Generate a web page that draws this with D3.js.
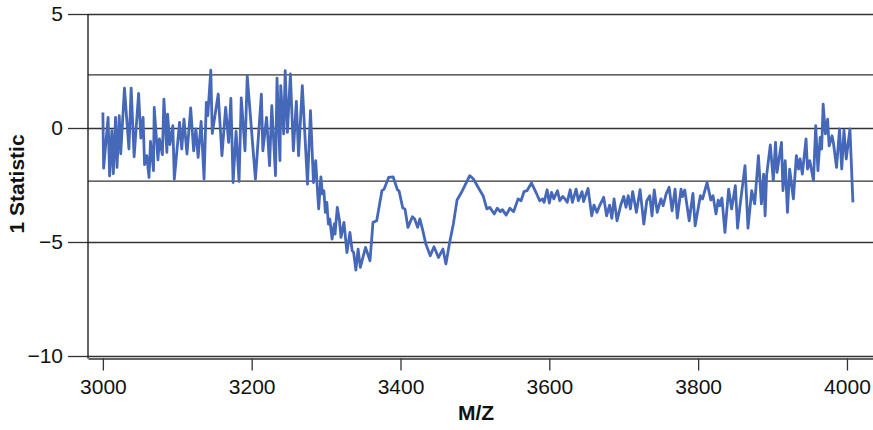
<!DOCTYPE html>
<html>

<head>
  <meta charset="utf-8">
  <title>1 Statistic vs M/Z</title>
  <script src="https://cdn.jsdelivr.net/npm/d3@7"></script>
  <style type="text/css">
    html,
    body {
      margin: 0;
      padding: 0;
      background: #fff;
    }

    svg {
      display: block;
      font-family: "Liberation Sans", Arial, Helvetica, sans-serif;
    }

    .axis text {
      font-size: 21px;
      fill: #111;
    }

    .axis path,
    .axis line,
    .grid line {
      stroke: #333;
      stroke-width: 1.3px;
    }

    .grid path {
      display: none;
    }

    .title {
      font-size: 21px;
      font-weight: bold;
      fill: #111;
    }

    .line {
      fill: none;
      stroke: #4668b8;
      stroke-width: 2.8px;
      stroke-linejoin: round;
    }
  </style>
</head>

<body>
  <svg class="svg" width="873" height="430"></svg>
  <script type="text/javascript">
    // M/Z positions
    var mz = [
      3000, 3001, 3007, 3009, 3012, 3014, 3017, 3019, 3022, 3024, 3029, 3035, 3038, 3042, 3048, 3051,
      3054, 3056, 3059, 3062, 3064, 3068, 3069, 3074, 3076, 3080, 3082, 3086, 3087, 3090, 3094, 3096,
      3103, 3106, 3109, 3113, 3118, 3122, 3125, 3128, 3132, 3136, 3139, 3141, 3145, 3147, 3155, 3160,
      3165, 3169, 3172, 3175, 3179, 3183, 3186, 3191, 3194, 3205, 3213, 3215, 3220, 3224, 3227, 3232,
      3234, 3238, 3239, 3243, 3245, 3248, 3252, 3256, 3260, 3263, 3268, 3275, 3279, 3283, 3286, 3288,
      3290, 3293, 3295, 3297, 3299, 3301, 3303, 3305, 3308, 3311, 3312, 3315, 3318, 3320, 3324, 3328,
      3332, 3335, 3337, 3340, 3343, 3346, 3353, 3359, 3363, 3368, 3375, 3378, 3384, 3390, 3396, 3398,
      3403, 3406, 3410, 3416, 3419, 3423, 3426, 3430, 3434, 3440, 3445, 3451, 3457, 3461, 3466, 3471,
      3476, 3482, 3493, 3498, 3507, 3511, 3516, 3520, 3526, 3530, 3534, 3537, 3542, 3547, 3552, 3558,
      3562, 3566, 3570, 3576, 3582, 3587, 3591, 3593, 3597, 3600, 3603, 3606, 3611, 3614, 3618, 3621,
      3624, 3628, 3631, 3636, 3639, 3644, 3646, 3652, 3657, 3660, 3664, 3668, 3673, 3677, 3681, 3684,
      3687, 3691, 3696, 3700, 3703, 3706, 3709, 3712, 3717, 3722, 3727, 3731, 3735, 3738, 3741, 3745,
      3750, 3753, 3757, 3761, 3765, 3769, 3772, 3777, 3779, 3782, 3788, 3793, 3796, 3803, 3806, 3812,
      3817, 3820, 3824, 3827, 3829, 3832, 3836, 3841, 3845, 3850, 3853, 3856, 3863, 3867, 3872, 3876,
      3881, 3885, 3888, 3890, 3892, 3897, 3901, 3904, 3906, 3912, 3914, 3917, 3920, 3923, 3926, 3928,
      3932, 3935, 3937, 3940, 3945, 3947, 3950, 3955, 3958, 3961, 3964, 3966, 3968, 3971, 3974, 3976,
      3980, 3982, 3986, 3990, 3993, 3996, 3999, 4004, 4008
    ];

    // statistic values, same order
    var stat = [
      0.68, -1.76, 0.47, -2.1, -0.12, -2.0, 0.47, -1.73, 0.54, -1.13, 1.75, -0.92, 1.75, -1.26, 1.52, -0.44,
      0.47, -1.61, -1.21, -2.17, -0.59, -1.87, 0.9, -1.4, -0.48, -1.17, 1.27, -1.07, 0.61, -0.73, 0.1, -2.24,
      0.25, -0.92, 0.39, -1.14, 0.88, -1.0, -0.04, -1.29, 0.29, -2.24, 1.12, 0.54, 2.54, -0.24, 1.49, -1.21,
      0.9, -0.63, 1.3, -2.39, -0.15, -2.34, 1.32, -1.0, 2.29, -2.24, 1.49, -1.0, 0.47, -1.65, 0.98, -2.09,
      2.19, -1.43, 1.86, -0.26, 2.51, -0.19, 2.37, -1.0, 1.17, -1.21, 1.86, -2.46, 0.76, -2.39, -1.43, -2.53,
      -3.55, -2.14, -2.89, -2.75, -3.7, -3.26, -4.21, -3.99, -4.87, -4.21, -4.65, -3.48, -4.07, -4.8, -4.14, -5.46,
      -4.58, -5.38, -5.46, -6.23, -5.31, -6.11, -5.24, -5.82, -4.14, -4.07, -2.75, -2.68, -2.17, -2.14, -2.72, -2.75,
      -3.51, -3.55, -4.36, -3.89, -3.99, -4.36, -3.99, -4.5, -5.09, -5.6, -5.21, -5.68, -5.31, -5.96, -5.02, -4.21,
      -3.16, -2.82, -2.09, -2.24, -2.75, -2.97, -3.55, -3.48, -3.77, -3.52, -3.67, -3.58, -3.82, -3.52, -3.67, -3.11,
      -3.19, -2.79, -2.75, -2.41, -2.82, -3.19, -3.11, -3.26, -2.71, -3.29, -2.82, -3.11, -2.75, -3.19, -3.0, -3.11,
      -3.26, -2.71, -3.26, -2.68, -3.19, -2.79, -3.23, -2.65, -3.85, -3.38, -3.7, -3.38, -3.04, -3.85, -3.38, -3.96,
      -3.11, -4.07, -3.38, -3.0, -3.48, -2.97, -3.55, -2.79, -3.7, -2.7, -4.21, -3.19, -2.97, -3.85, -2.72, -3.7,
      -3.11, -3.41, -2.89, -2.6, -3.63, -2.68, -3.95, -2.68, -3.01, -2.72, -4.07, -2.87, -4.29, -2.97, -3.11, -2.39,
      -3.16, -2.97, -3.77, -3.16, -3.41, -3.07, -4.58, -2.68, -3.55, -2.53, -4.39, -3.48, -1.65, -4.39, -2.75, -3.33,
      -1.21, -3.33, -2.02, -3.85, -2.09, -0.74, -2.31, -0.63, -1.95, -0.63, -2.75, -1.43, -3.7, -1.8, -2.6, -3.11,
      -1.21, -1.8, -1.36, -2.02, -0.48, -1.8, -1.43, -2.31, 0.1, -1.87, -0.41, -0.92, 1.05, -0.26, 0.39, -0.78,
      -0.34, -0.7, -1.73, -0.04, -1.8, -0.09, -1.36, -0.04, -3.26
    ];

    var xTicks = [3000, 3200, 3400, 3600, 3800, 4000];
    var yTicks = [5, 0, -5, -10];
    var thresholds = [2.33, -2.33];

    var data = mz.map((m, i) => ({ mz: m, value: stat[i] }));

    var svg = d3.select('.svg');
    var plotLeft = 88,
      plotRight = 873,
      plotTop = 14,
      plotBottom = 356,
      axisY = 358.5;

    var xScale = d3.scaleLinear()
      .domain([2980, 4035])
      .range([plotLeft, plotRight]);

    var yScale = d3.scaleLinear()
      .domain([-10, 5])
      .range([plotBottom, plotTop]);

    // threshold lines
    svg.selectAll('line.thr')
      .data(thresholds)
      .enter()
      .append('line')
      .classed('thr', true)
      .attr('x1', plotLeft)
      .attr('x2', plotRight)
      .attr('y1', d => yScale(d))
      .attr('y2', d => yScale(d))
      .attr('stroke', '#333')
      .attr('stroke-width', 1.3);

    // grid across plot
    svg.append('g')
      .attr('class', 'grid')
      .attr('transform', `translate(${plotLeft}, 0)`)
      .call(d3.axisLeft(yScale)
        .tickValues(yTicks)
        .tickSizeInner(-(plotRight - plotLeft))
        .tickSizeOuter(0)
        .tickFormat(''));

    // y axis
    var yAxis = d3.axisLeft(yScale)
      .tickValues(yTicks)
      .tickSizeInner(20)
      .tickSizeOuter(0)
      .tickPadding(5)
      .tickFormat(d3.format('d'));

    svg.append('g')
      .attr('class', 'y axis')
      .attr('transform', `translate(${plotLeft}, 0)`)
      .call(yAxis)
      .call(g => g.select('.domain').remove());

    // x axis
    var xAxis = d3.axisBottom(xScale)
      .tickValues(xTicks)
      .tickSizeInner(12)
      .tickSizeOuter(0)
      .tickPadding(9)
      .tickFormat(d3.format('d'));

    svg.append('g')
      .attr('class', 'x axis')
      .attr('transform', `translate(0, ${axisY})`)
      .call(xAxis)
      .call(g => g.select('.domain').attr('stroke', '#888'));

    // left frame line
    svg.append('line')
      .attr('x1', plotLeft)
      .attr('x2', plotLeft)
      .attr('y1', plotTop)
      .attr('y2', axisY)
      .attr('stroke', '#222')
      .attr('stroke-width', 1.4);

    var linePath = d3.line()
      .x(d => xScale(d.mz))
      .y(d => yScale(d.value));

    svg.append('path')
      .datum(data)
      .attr('class', 'line')
      .attr('d', linePath);

    // titles
    svg.append('text')
      .attr('class', 'title')
      .attr('x', 476)
      .attr('y', 420)
      .attr('text-anchor', 'middle')
      .text('M/Z');

    svg.append('text')
      .attr('class', 'title')
      .attr('transform', 'translate(24, 184) rotate(-90)')
      .attr('text-anchor', 'middle')
      .text('1 Statistic');
  </script>
</body>

</html>
